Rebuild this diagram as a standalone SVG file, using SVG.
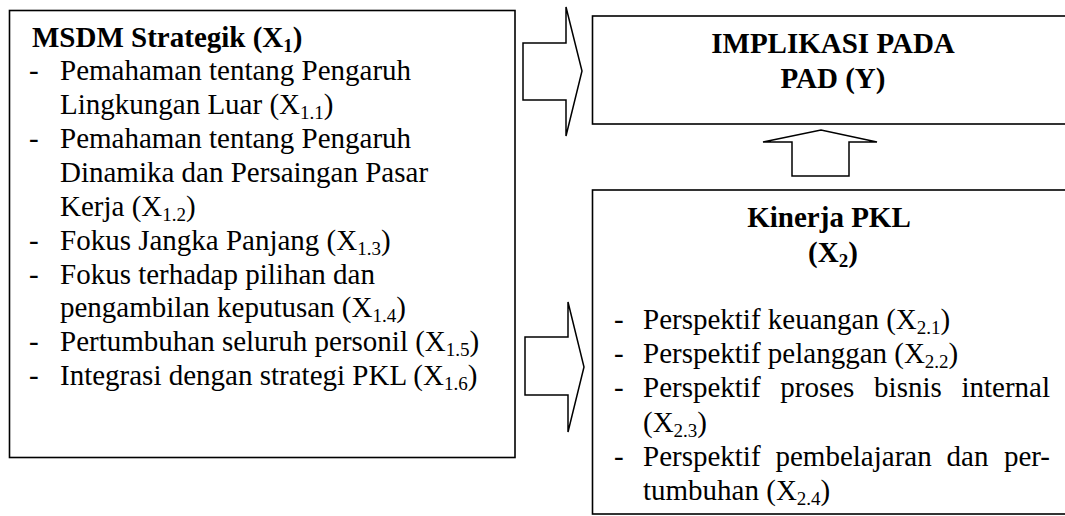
<svg xmlns="http://www.w3.org/2000/svg" width="1065" height="516" viewBox="0 0 1065 516">
<style>
.box{fill:#fff;stroke:#000;stroke-width:1.6}
.arr{fill:#fff;stroke:#000;stroke-width:1.5;stroke-linejoin:miter}
text{font-family:'Liberation Serif','DejaVu Serif',serif;font-size:29px;fill:#000}
.b{font-weight:bold}
.s{font-size:19px}
.c{text-anchor:middle}
</style>
<rect width="1065" height="516" fill="#fff"/>
<g id="connectors">
<polygon class="arr" points="523,43 566,43 566,7 582,71 566,136 566,100 523,100"/>
<polygon class="arr" points="525,337 568,337 568,302 584,367 568,432 568,395 525,395"/>
<polygon class="arr" points="792,176 792,142 763,142 821,130 877,142 849,142 849,176"/>
</g>
<g id="x1" font-family="Liberation Serif, DejaVu Serif, serif">
<rect class="box" x="9.5" y="10.5" width="505.5" height="447"/>
<text class="b" x="32" y="46.5">MSDM Strategik (X<tspan class="s" dy="5">1</tspan><tspan dy="-5">)</tspan></text>
<text x="29" y="80.4">-</text>
<text x="60" y="80.4">Pemahaman tentang Pengaruh</text>
<text x="60" y="114.2">Lingkungan Luar (X<tspan class="s" dy="5">1.1</tspan><tspan dy="-5">)</tspan></text>
<text x="29" y="148.1">-</text>
<text x="60" y="148.1">Pemahaman tentang Pengaruh</text>
<text x="60" y="182">Dinamika dan Persaingan Pasar</text>
<text x="60" y="215.8">Kerja (X<tspan class="s" dy="5">1.2</tspan><tspan dy="-5">)</tspan></text>
<text x="29" y="249.7">-</text>
<text x="60" y="249.7">Fokus Jangka Panjang (X<tspan class="s" dy="5">1.3</tspan><tspan dy="-5">)</tspan></text>
<text x="29" y="283.5">-</text>
<text x="60" y="283.5">Fokus terhadap pilihan dan</text>
<text x="60" y="317.4">pengambilan keputusan (X<tspan class="s" dy="5">1.4</tspan><tspan dy="-5">)</tspan></text>
<text x="29" y="351.2">-</text>
<text x="60" y="351.2">Pertumbuhan seluruh personil (X<tspan class="s" dy="5">1.5</tspan><tspan dy="-5">)</tspan></text>
<text x="29" y="385">-</text>
<text x="60" y="385">Integrasi dengan strategi PKL (X<tspan class="s" dy="5">1.6</tspan><tspan dy="-5">)</tspan></text>
</g>
<g id="y">
<rect class="box" x="592.5" y="16" width="490" height="108"/>
<text class="b c" x="833" y="53.3">IMPLIKASI PADA</text>
<text class="b c" x="833" y="88.3">PAD (Y)</text>
</g>
<g id="x2">
<rect class="box" x="592.5" y="190" width="490" height="324"/>
<text class="b c" x="829" y="226.7">Kinerja PKL</text>
<text class="b c" x="833" y="262">(X<tspan class="s" dy="5">2</tspan><tspan dy="-5">)</tspan></text>
<text x="614" y="329">-</text>
<text x="643" y="329">Perspektif keuangan (X<tspan class="s" dy="5">2.1</tspan><tspan dy="-5">)</tspan></text>
<text x="614" y="363.2">-</text>
<text x="643" y="363.2">Perspektif pelanggan (X<tspan class="s" dy="5">2.2</tspan><tspan dy="-5">)</tspan></text>
<text x="614" y="397.4">-</text>
<text x="643" y="397.4">Perspektif</text>
<text x="780.3" y="397.4">proses</text>
<text x="874.1" y="397.4">bisnis</text>
<text x="1050" y="397.4" text-anchor="end">internal</text>
<text x="643" y="431.6">(X<tspan class="s" dy="5">2.3</tspan><tspan dy="-5">)</tspan></text>
<text x="614" y="465.8">-</text>
<text x="643" y="465.8">Perspektif</text>
<text x="775.5" y="465.8">pembelajaran</text>
<text x="946.6" y="465.8">dan</text>
<text x="1050" y="465.8" text-anchor="end">per-</text>
<text x="643" y="500">tumbuhan (X<tspan class="s" dy="5">2.4</tspan><tspan dy="-5">)</tspan></text>
</g>
</svg>
